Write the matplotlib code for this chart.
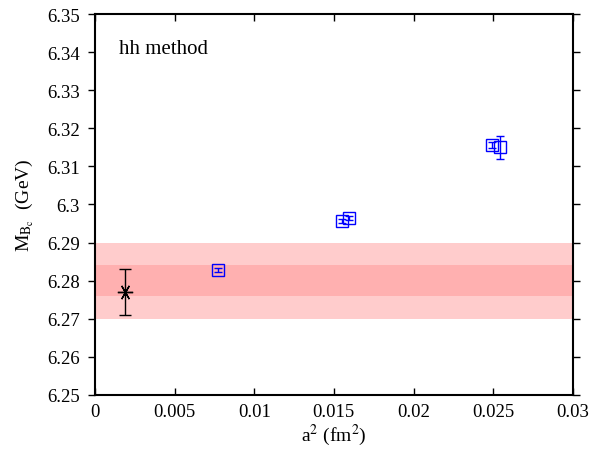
import matplotlib

matplotlib.use("Agg")
import matplotlib.pyplot as plt

plt.rcParams["font.family"] = ["Liberation Serif", "DejaVu Serif"]
plt.rcParams["mathtext.fontset"] = "stix"

# lattice points: a^2 (fm^2), M_Bc (GeV), error
a2 = [0.00771, 0.01553, 0.01597, 0.02495, 0.02543]
mbc = [6.2827, 6.2957, 6.2964, 6.3156, 6.3150]
mbc_err = [0.0005, 0.0005, 0.0005, 0.0008, 0.0030]

# continuum extrapolation
cont_x = [0.0019]
cont_y = [6.277]
cont_err = [0.006]

# bands
band_center = 6.280
band_inner = 0.004
band_outer = 0.010

fig = plt.figure(figsize=(5.93, 4.56), dpi=100)
ax = fig.add_axes([0.160, 0.132, 0.806, 0.835])

ax.axhspan(band_center - band_outer, band_center + band_outer, color="#ffcccc", lw=0, zorder=0)
ax.axhspan(band_center - band_inner, band_center + band_inner, color="#ffb0b0", lw=0, zorder=1)

ax.errorbar(a2, mbc, yerr=mbc_err, fmt="s", mfc="none", mec="blue", ecolor="blue",
            ms=8, mew=1, elinewidth=1, capsize=3, zorder=3)
ax.errorbar(cont_x, cont_y, yerr=cont_err, fmt="none", ecolor="black",
            elinewidth=1, capsize=4, zorder=3)
ax.plot(cont_x, cont_y, ls="none", marker=(6, 2, 90), color="black", ms=11, mew=1, zorder=4)

ax.set_xlim(0, 0.03)
ax.set_ylim(6.25, 6.35)
ax.set_xticks([0, 0.005, 0.01, 0.015, 0.02, 0.025, 0.03])
ax.set_xticklabels(["0", "0.005", "0.01", "0.015", "0.02", "0.025", "0.03"])
yt = [6.25, 6.26, 6.27, 6.28, 6.29, 6.3, 6.31, 6.32, 6.33, 6.34, 6.35]
ax.set_yticks(yt)
ax.set_yticklabels(["6.25", "6.26", "6.27", "6.28", "6.29", "6.3", "6.31", "6.32",
                    "6.33", "6.34", "6.35"])
ax.tick_params(axis="x", direction="in", top=True, length=5, width=1, labelsize=13.5, pad=6)
ax.tick_params(axis="y", direction="out", right=True, length=5, width=1, labelsize=13.5, pad=6)
for s in ax.spines.values():
    s.set_linewidth(1.5)

ax.set_xlabel(r"a$^2$ (fm$^2$)", fontsize=14, labelpad=1)
ax.set_ylabel(r"M$_{\mathrm{B_c}}$  (GeV)", fontsize=14, labelpad=8)
ax.text(0.05, 0.935, "hh method", transform=ax.transAxes, fontsize=15, va="top")

fig.savefig("out.png", dpi=100)
